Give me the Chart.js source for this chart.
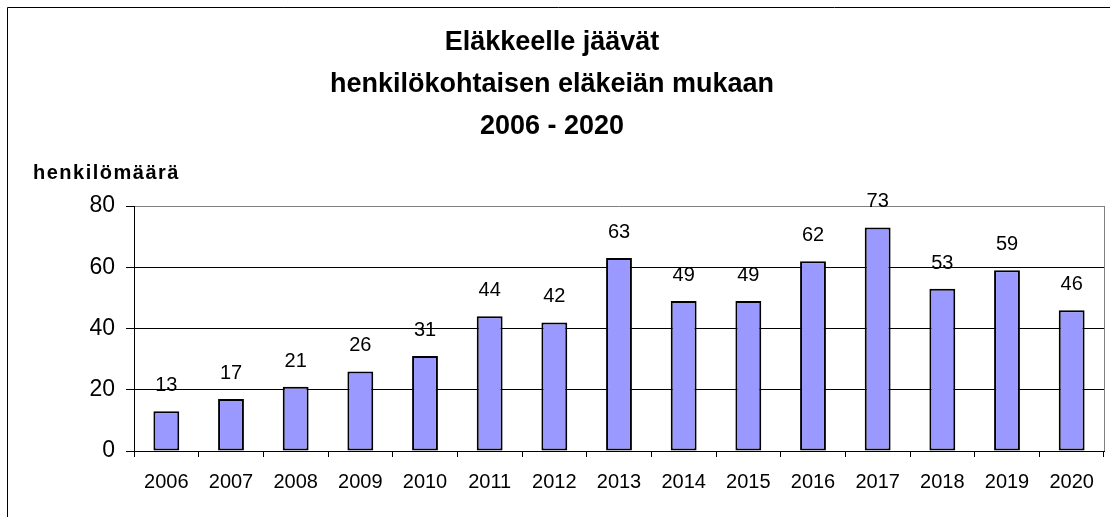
<!DOCTYPE html>
<html><head><meta charset="utf-8">
<script src="https://cdn.jsdelivr.net/npm/chart.js@4/dist/chart.umd.min.js"></script>
<style>html,body{margin:0;padding:0;background:#fff;overflow:hidden}canvas{display:block}</style>
</head><body>
<canvas id="c" width="1110" height="517"></canvas>
<script>
const categories = ['2006','2007','2008','2009','2010','2011','2012','2013','2014','2015','2016','2017','2018','2019','2020'];
const values = [13,17,21,26,31,44,42,63,49,49,62,73,53,59,46];
const yTicks = [0,20,40,60,80];
const titleLines = ['Eläkkeelle jäävät','henkilökohtaisen eläkeiän mukaan','2006 - 2020'];
const yAxisTitle = 'henkilömäärä';

const FONT = "'Liberation Sans', Arial, sans-serif";

const decor = {
  id: 'decor',
  afterDraw(chart) {
    const ctx = chart.ctx, a = chart.chartArea;
    ctx.save();
    // outer frame (left & top edges visible)
    ctx.strokeStyle = '#000';
    ctx.lineWidth = 1;
    ctx.beginPath();
    ctx.moveTo(7.5, 517); ctx.lineTo(7.5, 7.5); ctx.lineTo(1110, 7.5);
    ctx.stroke();
    // right plot border
    ctx.strokeStyle = '#808080';
    ctx.beginPath();
    ctx.moveTo(Math.round(a.right) + 0.5, a.top);
    ctx.lineTo(Math.round(a.right) + 0.5, a.bottom);
    ctx.stroke();
    // y axis title
    ctx.fillStyle = '#000';
    ctx.font = 'bold 20px ' + FONT;
    ctx.letterSpacing = '1.5px';
    ctx.textAlign = 'left';
    ctx.textBaseline = 'alphabetic';
    ctx.fillText(yAxisTitle, 33, 179);
    ctx.restore();
  },
  afterDatasetsDraw(chart) {
    const ctx = chart.ctx;
    const meta = chart.getDatasetMeta(0);
    ctx.save();
    ctx.fillStyle = '#000';
    ctx.font = '20px ' + FONT;
    ctx.textAlign = 'center';
    ctx.textBaseline = 'alphabetic';
    meta.data.forEach((bar, i) => {
      ctx.fillText(String(values[i]), bar.x, bar.y - 20);
    });
    ctx.restore();
  }
};

new Chart(document.getElementById('c'), {
  type: 'bar',
  data: {
    labels: categories,
    datasets: [{
      data: values,
      backgroundColor: '#9999FF',
      borderColor: '#000',
      borderWidth: 2,
      borderSkipped: false,
      categoryPercentage: 1,
      barPercentage: 0.4
    }]
  },
  options: {
    responsive: false,
    animation: false,
    devicePixelRatio: 1,
    layout: { padding: { left: 0, right: 6, top: 0, bottom: 0 } },
    plugins: {
      legend: { display: false },
      tooltip: { enabled: false },
      title: {
        display: true,
        text: titleLines,
        color: '#000',
        font: { family: FONT, size: 27, weight: 'bold', lineHeight: 42/27 },
        padding: { top: 22, bottom: 58 }
      }
    },
    scales: {
      x: {
        grid: { display: true, drawOnChartArea: false, drawTicks: true, tickLength: 6, color: '#000', tickColor: '#000', offset: true },
        border: { display: true, color: '#000', width: 1 },
        ticks: { color: '#000', font: { family: FONT, size: 20 }, padding: 13, maxRotation: 0, autoSkip: false },
        afterFit(scale) { scale.height = 66; }
      },
      y: {
        min: 0, max: 80,
        afterBuildTicks(scale) { scale.ticks = yTicks.map(v => ({ value: v })); },
        grid: {
          color: (c) => (c.tick && c.tick.value === 80) ? '#808080' : '#000',
          tickColor: '#000', tickLength: 8, lineWidth: 1
        },
        border: { display: true, color: '#000', width: 1 },
        ticks: { color: '#000', font: { family: FONT, size: 23 }, padding: 11 },
        afterFit(scale) { scale.width = 134; }
      }
    }
  },
  plugins: [decor]
});
</script>
</body></html>
